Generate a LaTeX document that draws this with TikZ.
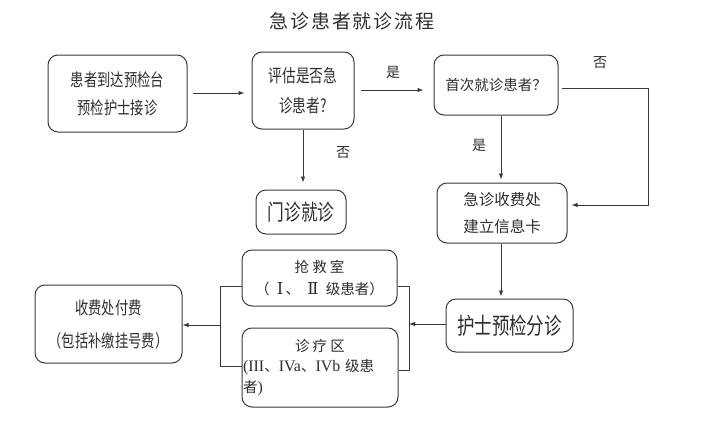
\documentclass[tikz,border=0pt]{standalone}
\usepackage{fontspec}
\setmainfont{Noto Sans CJK SC}
\newfontfamily\cjkspaced[LetterSpace=10]{Noto Sans CJK SC}
\newfontfamily\cjkwide[LetterSpace=22]{Noto Sans CJK SC}
\newfontfamily\cjknarrow[FakeStretch=0.76]{Noto Sans CJK SC}
\newfontfamily\serifl{Liberation Serif}
\newfontfamily\serifr{DejaVu Serif}
\usetikzlibrary{arrows.meta}
\definecolor{linec}{HTML}{3A3A3A}
\definecolor{textc}{HTML}{2E2E2E}
\begin{document}
\begin{tikzpicture}[x=1pt,y=-1pt,
  box/.style={draw=linec, line width=1pt, rounded corners=10pt, text=textc, inner sep=0pt, align=center},
  conn/.style={draw=linec, line width=0.9pt},
  arr/.style={conn, -{Latex[length=6pt,width=4.5pt]}},
  lbl/.style={text=textc, font=\fontsize{14}{16}\selectfont, inner sep=0pt}]
\useasboundingbox[fill=white] (0,0) rectangle (728,423);

\node[text=textc, inner sep=0pt, font=\cjkspaced\fontsize{19}{21}\selectfont] (title) at (352,21) {急诊患者就诊流程};

\node[box, minimum width=139pt, minimum height=77pt, font=\cjknarrow\fontsize{17.5}{28}\selectfont] (A) at (117.5,93.5) {患者到达预检台\\预检护士接诊};
\node[box, minimum width=102pt, minimum height=77pt, font=\cjknarrow\fontsize{18}{30}\selectfont] (B) at (303,90.5) {评估是否急\\诊患者?};
\node[box, minimum width=90pt, minimum height=44pt, font=\cjknarrow\fontsize{22}{24}\selectfont] (O) at (301,212) {门诊就诊};
\node[box, minimum width=124pt, minimum height=60pt, font=\fontsize{14.5}{16}\selectfont] (C) at (496,85) {首次就诊患者？};
\node[box, minimum width=130pt, minimum height=60pt, font=\fontsize{15.5}{27}\selectfont] (D) at (502,213) {急诊收费处\\建立信息卡};
\node[box, minimum width=127pt, minimum height=53pt, font=\cjknarrow\fontsize{23}{25}\selectfont] (E) at (509.5,325.5) {护士预检分诊};
\node[box, minimum width=155pt, minimum height=56pt, font=\fontsize{14.5}{22}\selectfont] (F) at (319.5,278) {{\cjkwide 抢救室}\\（\enspace{\serifr\fontsize{16.5}{22}\selectfont Ⅰ}\,、\enspace{\serifr\fontsize{16.5}{22}\selectfont Ⅱ}\enspace 级患者）};
\node[box, minimum width=156pt, minimum height=79pt, text width=154pt, align=left, font=\fontsize{14.5}{20.5}\selectfont] (G) at (320,367.5)
  {{\centering\cjkwide 诊疗区\par}\raggedright{\serifl\fontsize{16}{20.5}\selectfont (III}、{\serifl\fontsize{16}{20.5}\selectfont IVa}、{\serifl\fontsize{16}{20.5}\selectfont IVb} 级患\\者{\serifl\fontsize{16}{20.5}\selectfont )}};
\node[box, minimum width=147pt, minimum height=78pt, font=\cjknarrow\fontsize{17.5}{33}\selectfont] (H) at (108.5,324) {收费处付费\\（包括补缴挂号费）};

% connectors
\draw[arr, shorten <=5pt, shorten >=7pt] (A.east |- 0,93) -- (B.west |- 0,93);
\draw[arr, shorten >=7pt] (B.south) -- (B.south |- O.north);
\node[lbl] (no1) at (343,153) {否};
\draw[arr, shorten <=6pt, shorten >=10pt] (B.east |- 0,90) -- (C.west |- 0,90);
\node[lbl] (yes1) at (393,72) {是};
\coordinate (cx) at (501,0);
\draw[arr, shorten >=3pt] (cx |- C.south) -- (cx |- D.north);
\node[lbl] (yes2) at (479,145) {是};
\coordinate (c1) at (648,88);
\coordinate (c2) at (648,205);
\draw[arr, shorten <=3pt, shorten >=4pt] (C.east |- c1) -- (c1) -- (c2) -- (D.east |- c2);
\node[lbl] (no2) at (600,63) {否};
\draw[arr, shorten >=2pt] (cx |- D.south) -- (cx |- E.north);

\coordinate (rb) at (409,324);
\draw[arr] (E.west |- rb) -- (rb);
\coordinate (rt) at (409,286);
\coordinate (rbt) at (409,370);
\draw[conn] (F.east |- rt) -- (rt) -- (rbt) -- (G.east |- rbt);
\coordinate (lt) at (220,286);
\coordinate (lb) at (220,366);
\coordinate (lm) at (220,325);
\draw[conn] (F.west |- lt) -- (lt) -- (lb) -- (G.west |- lb);
\draw[arr] (lm) -- (H.east |- lm);
\end{tikzpicture}
\end{document}
